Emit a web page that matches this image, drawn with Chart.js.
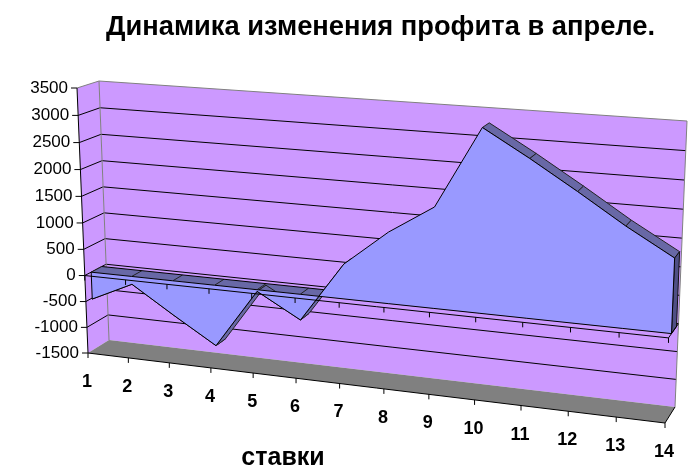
<!DOCTYPE html>
<html>
<head>
<meta charset="utf-8">
<script src="https://cdn.jsdelivr.net/npm/chart.js@4"></script>
<style>
  html, body { margin: 0; background: #fff; }
  canvas { display: block; }
</style>
</head>
<body>
<canvas id="chart" width="691" height="472"></canvas>
<script>
const titleText = 'Динамика изменения профита в апреле.'
const axisTitle = 'ставки'
const categories = ['1', '2', '3', '4', '5', '6', '7', '8', '9', '10', '11', '12', '13', '14']
const profit = [-520, -150, -660, -1150, -30, -480, 640, 1300, 1820, 3270, 2800, 2300, 1780, 1310]
const zeroLine = [0, 0, 0, 0, 0, 0, 0, 0, 0, 0, 0, 0, 0, 0]
const yMin = -1500
const yMax = 3500
const yStep = 500

// camera: corners of the 3d box on screen, order is bottom-left, bottom-right, top-right, top-left
const frontQuad = [[88, 353], [665, 423], [677, 131], [77, 88]]
const backQuad = [[109, 340], [675, 407], [687, 121], [99, 81]]
const faceDepth = 0.3
const rearDepth = 0.8

function quadMatrix (q) {
  const [[x0, y0], [x1, y1], [x2, y2], [x3, y3]] = q
  const dx1 = x1 - x2
  const dx2 = x3 - x2
  const dx3 = x0 - x1 + x2 - x3
  const dy1 = y1 - y2
  const dy2 = y3 - y2
  const dy3 = y0 - y1 + y2 - y3
  const den = dx1 * dy2 - dx2 * dy1
  const g = (dx3 * dy2 - dx2 * dy3) / den
  const h = (dx1 * dy3 - dx3 * dy1) / den
  return [x1 - x0 + g * x1, x3 - x0 + h * x3, x0, y1 - y0 + g * y1, y3 - y0 + h * y3, y0, g, h]
}

const frontM = quadMatrix(frontQuad)
const backM = quadMatrix(backQuad)

function applyM (m, u, v) {
  const w = m[6] * u + m[7] * v + 1
  return [(m[0] * u + m[1] * v + m[2]) / w, (m[3] * u + m[4] * v + m[5]) / w]
}

// u along categories, v up the value axis, d into the picture (all 0..1)
function project (u, v, d) {
  const f = applyM(frontM, u, v)
  const b = applyM(backM, u, v)
  return [f[0] + (b[0] - f[0]) * d, f[1] + (b[1] - f[1]) * d]
}

function toUnit (chart, px, py) {
  const a = chart.chartArea
  return [(px - a.left) / (a.right - a.left), (a.bottom - py) / (a.bottom - a.top)]
}

function poly (ctx, pts, fill, stroke) {
  ctx.beginPath()
  pts.forEach((p, i) => i ? ctx.lineTo(p.x, p.y) : ctx.moveTo(p.x, p.y))
  ctx.closePath()
  if (fill) {
    ctx.fillStyle = fill
    ctx.fill()
  }
  if (stroke) {
    ctx.strokeStyle = stroke
    ctx.lineWidth = 1
    ctx.stroke()
  }
}

function seg (ctx, a, b, color) {
  ctx.beginPath()
  ctx.moveTo(a[0], a[1])
  ctx.lineTo(b[0], b[1])
  ctx.strokeStyle = color
  ctx.lineWidth = 1
  ctx.stroke()
}

const xy = p => ({ x: p[0], y: p[1] })

const box3d = {
  id: 'box3d',
  afterDatasetsUpdate (chart) {
    chart.data.datasets.forEach((ds, i) => {
      chart.getDatasetMeta(i).data.forEach(el => {
        const [u, v] = toUnit(chart, el.x, el.y)
        const p = project(u, v, ds.depth)
        el.x = p[0]
        el.y = p[1]
      })
    })
  },
  beforeDatasetsDraw (chart) {
    const ctx = chart.ctx
    const yScale = chart.scales.y
    const corner = (u, v, d) => xy(project(u, v, d))
    // side wall, back wall, floor
    poly(ctx, [corner(0, 0, 0), corner(0, 0, 1), corner(0, 1, 1), corner(0, 1, 0)], '#cc99ff')
    poly(ctx, [corner(0, 0, 1), corner(1, 0, 1), corner(1, 1, 1), corner(0, 1, 1)], '#cc99ff')
    poly(ctx, [corner(0, 0, 0), corner(1, 0, 0), corner(1, 0, 1), corner(0, 0, 1)], '#808080')

    yScale.ticks.forEach(t => {
      const v = toUnit(chart, 0, yScale.getPixelForValue(t.value))[1]
      const edge = t.value === yMin || t.value === yMax
      if (t.value === yMin) return
      const color = edge ? '#808080' : '#000'
      seg(ctx, project(0, v, 0), project(0, v, 1), color)
      seg(ctx, project(0, v, 1), project(1, v, 1), color)
    })
    seg(ctx, project(0, 0, 1), project(0, 1, 1), '#808080')
    seg(ctx, project(1, 0, 1), project(1, 1, 1), '#808080')
  },
  beforeDatasetDraw (chart, args) {
    const ctx = chart.ctx
    const pts = i => chart.getDatasetMeta(i).data
    const last = categories.length - 1
    if (args.index === 3) {
      // flat band along the zero plane
      poly(ctx, [...pts(1), ...[...pts(3)].reverse()], '#6868a6')
      pts(1).forEach((p, i) => {
        if (i < last) seg(ctx, [p.x, p.y], [pts(3)[i].x, pts(3)[i].y], '#222')
      })
    }
    if (args.index === 2) {
      // strip along the profit line and the closing side, rising positive stretches face away
      for (let i = 0; i < last; i++) {
        if (profit[i] >= 0 && profit[i + 1] > profit[i]) continue
        poly(ctx, [pts(0)[i], pts(0)[i + 1], pts(2)[i + 1], pts(2)[i]], '#6868a6', '#222')
      }
      poly(ctx, [pts(1)[last], pts(0)[last], pts(2)[last], pts(3)[last]], '#4f4f85', '#111')
    }
    if (args.index === 1) {
      poly(ctx, [...pts(0), ...[...pts(1)].reverse()], '#9999ff')
      seg(ctx, [pts(0)[0].x, pts(0)[0].y], [pts(1)[0].x, pts(1)[0].y], '#000')
      seg(ctx, [pts(0)[last].x, pts(0)[last].y], [pts(1)[last].x, pts(1)[last].y], '#000')
    }
  },
  afterDatasetsDraw (chart) {
    const ctx = chart.ctx
    const xScale = chart.scales.x
    const yScale = chart.scales.y
    const zeroV = toUnit(chart, 0, yScale.getPixelForValue(0))[1]
    // axis lines
    seg(ctx, project(0, 0, 0), project(0, 1, 0), '#000')
    seg(ctx, project(0, 0, 0), project(1, 0, 0), '#000')
    seg(ctx, project(0, zeroV, 0), project(1, zeroV, 0), '#000')
    seg(ctx, project(1, 0, 0), project(1, 0, 1), '#000')
    seg(ctx, project(1, zeroV, 0), project(1, zeroV, 1), '#000')

    ctx.textAlign = 'right'
    ctx.textBaseline = 'middle'
    ctx.font = '17px "Liberation Sans"'
    yScale.ticks.forEach(t => {
      const v = toUnit(chart, 0, yScale.getPixelForValue(t.value))[1]
      const p = project(0, v, 0)
      seg(ctx, [p[0] - 6, p[1]], p, '#000')
      ctx.fillStyle = '#000'
      ctx.fillText(String(t.value), p[0] - 9, p[1])
    })

    ctx.textAlign = 'center'
    ctx.font = 'bold 18px "Liberation Sans"'
    categories.forEach((c, i) => {
      const u = toUnit(chart, xScale.getPixelForValue(i), 0)[0]
      const bottom = project(u, 0, 0)
      const mid = project(u, zeroV, 0)
      seg(ctx, bottom, [bottom[0], bottom[1] + 5], '#000')
      seg(ctx, mid, [mid[0], mid[1] + 5], '#000')
      ctx.fillStyle = '#000'
      ctx.fillText(c, bottom[0] - 1, bottom[1] + 29)
    })

    ctx.font = 'bold 25px "Liberation Sans"'
    ctx.fillText(axisTitle, 283, 458)
  }
}

const lineStyle = { borderColor: '#000', borderWidth: 1, pointRadius: 0, tension: 0, fill: false, clip: false }

new Chart(document.getElementById('chart'), {
  type: 'line',
  data: {
    labels: categories,
    datasets: [
      { label: 'профит', data: profit, depth: faceDepth, ...lineStyle },
      { label: 'ноль', data: zeroLine, depth: faceDepth, ...lineStyle },
      { label: 'профит, тыл', data: profit, depth: rearDepth, ...lineStyle, showLine: false },
      { label: 'ноль, тыл', data: zeroLine, depth: rearDepth, ...lineStyle }
    ]
  },
  plugins: [box3d],
  options: {
    responsive: false,
    animation: false,
    events: [],
    layout: { padding: { left: 106 } },
    scales: {
      x: { display: false, offset: false },
      y: { display: false, min: yMin, max: yMax, ticks: { stepSize: yStep } }
    },
    plugins: {
      legend: { display: false },
      tooltip: { enabled: false },
      title: {
        display: true,
        text: titleText,
        align: 'start',
        color: '#000',
        font: { family: '"Liberation Sans"', size: 27.3, weight: 'bold' },
        padding: { top: 11, bottom: 10 }
      }
    }
  }
})
</script>
</body>
</html>
